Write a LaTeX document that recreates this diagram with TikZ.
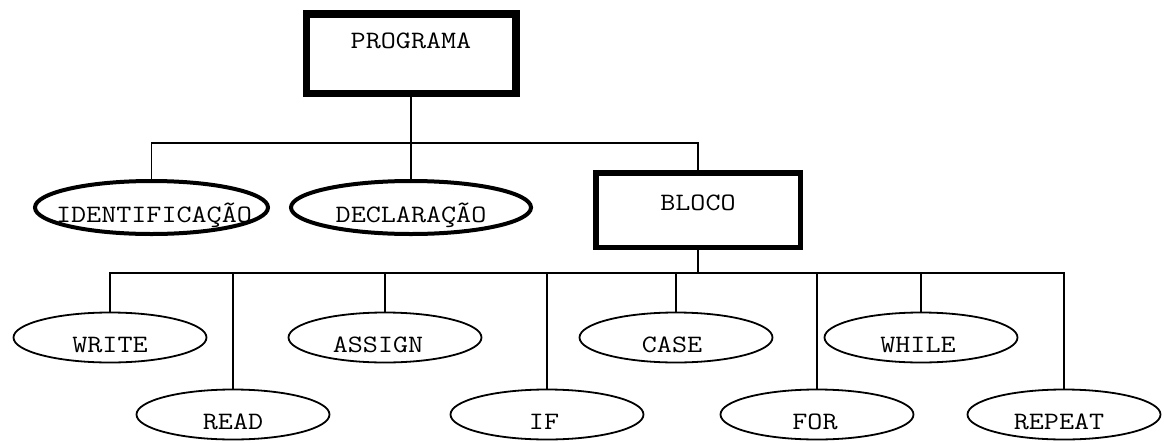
\documentclass[tikz,border=0pt]{standalone}
\usepackage{fontspec}
\usepackage{graphicx}
\usetikzlibrary{shapes.geometric}
\newcommand{\widetxt}[1]{\scalebox{1.17}[1]{#1}}
\tikzset{
  txt/.style={font=\ttfamily\fontsize{25}{30}\selectfont, inner sep=0pt, anchor=base},
  bigbox/.style={draw, line width=7.5pt, rectangle, inner sep=0pt},
  midbox/.style={draw, line width=5.5pt, rectangle, inner sep=0pt},
  thickoval/.style={draw, ellipse, line width=4pt, inner sep=0pt, minimum height=53pt},
  oval/.style={draw, ellipse, line width=1.8pt, inner sep=0pt, minimum width=193pt, minimum height=50pt},
  conn/.style={line width=1.8pt}
}
\begin{document}
\begin{tikzpicture}[x=1pt,y=-1pt]
\useasboundingbox (0,0) rectangle (1164,442);
% top level
\node[bigbox, minimum width=209.5pt, minimum height=79.5pt] (prog) at (411,53.5) {};
\node[txt] (tprog) at (411,48) {\widetxt{PROGRAMA}};
% second level
\node[thickoval, minimum width=233pt] (ident) at (151.5,207.5) {};
\node[txt] (tident) at (154,222) {\widetxt{IDENTIFICAÇÃO}};
\node[thickoval, minimum width=240pt] (decl) at (411,207.5) {};
\node[txt] (tdecl) at (411,222) {\widetxt{DECLARAÇÃO}};
\node[midbox, minimum width=204.5pt, minimum height=74.5pt] (bloco) at (698,210) {};
\node[txt] (tbloco) at (698,210) {\widetxt{BLOCO}};
% third level
\node[oval] (write) at (110,337.5) {};
\node[txt] (twrite) at (110,352) {\widetxt{WRITE}};
\node[oval] (read) at (233,414.5) {};
\node[txt] (tread) at (233,429) {\widetxt{READ}};
\node[oval] (assign) at (385,337.5) {};
\node[txt] (tassign) at (378,352) {\widetxt{ASSIGN}};
\node[oval] (if) at (547,414.5) {};
\node[txt] (tif) at (544,429) {\widetxt{IF}};
\node[oval] (case) at (676,337.5) {};
\node[txt] (tcase) at (672,352) {\widetxt{CASE}};
\node[oval] (for) at (817,414.5) {};
\node[txt] (tfor) at (815,429) {\widetxt{FOR}};
\node[oval] (while) at (921,337.5) {};
\node[txt] (twhile) at (918,352) {\widetxt{WHILE}};
\node[oval] (repeat) at (1064,414.5) {};
\node[txt] (trepeat) at (1059,429) {\widetxt{REPEAT}};
% junctions
\coordinate (j1) at (411,143);
\coordinate (j2) at (698,273);
% connectors level 1
\draw[conn] (prog.south) -- (j1);
\draw[conn] (ident.north) |- (j1) -| (bloco.north);
\draw[conn] (decl.north) -- (decl.north |- j1);
% connectors level 2
\draw[conn] (bloco.south) -- (j2);
\draw[conn] (write.north) |- (j2) -| (repeat.north);
\draw[conn] (read.north) -- (read.north |- j2);
\draw[conn] (assign.north) -- (assign.north |- j2);
\draw[conn] (if.north) -- (if.north |- j2);
\draw[conn] (case.north) -- (case.north |- j2);
\draw[conn] (for.north) -- (for.north |- j2);
\draw[conn] (while.north) -- (while.north |- j2);
\end{tikzpicture}
\end{document}
